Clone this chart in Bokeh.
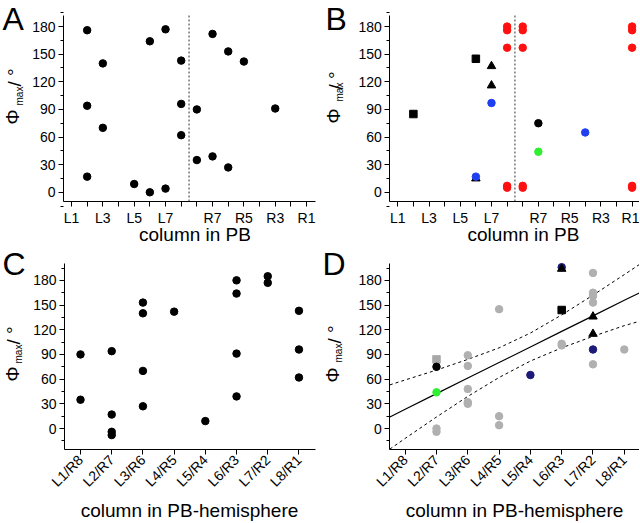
import math
from bokeh.plotting import figure
from bokeh.layouts import gridplot
from bokeh.models import FixedTicker, Label
from bokeh.embed import file_html
from bokeh.resources import INLINE

FONT = "Liberation Sans"

# ---------------- data ----------------
pb_columns = ["L1", "L2", "L3", "L4", "L5", "L6", "L7", "L8",
              "R8", "R7", "R6", "R5", "R4", "R3", "R2", "R1"]
pb_labeled = ["L1", "L3", "L5", "L7", "R7", "R5", "R3", "R1"]
hemi_columns = ["L1/R8", "L2/R7", "L3/R6", "L4/R5", "L5/R4", "L6/R3", "L7/R2", "L8/R1"]
phi_ticks = [0, 30, 60, 90, 120, 150, 180]
phi_minor = [-15, 15, 45, 75, 105, 135, 165, 195]

# Panel A
a_col = ["L2", "L2", "L2", "L3", "L3", "L5", "L6", "L6", "L7", "L7", "L8", "L8", "L8",
         "R8", "R8", "R7", "R7", "R6", "R6", "R5", "R3"]
a_phi = [176, 94, 17, 140, 70, 9, 164, 0, 177, 4, 143, 96, 62,
         90, 35, 172, 39, 153, 27, 142, 91]

# Panel B
b_square_col = ["L2", "L6"]
b_square_phi = [85, 145]
b_tri_col = ["L6", "L7", "L7"]
b_tri_phi = [15, 137, 116]
b_blue_col = ["L6", "L7", "R4"]
b_blue_phi = [17, 97, 65]
b_black_col = ["R7"]
b_black_phi = [75]
b_green_col = ["R7"]
b_green_phi = [44]
b_red_col = ["L8", "L8", "L8", "L8", "L8", "R8", "R8", "R8", "R8", "R8",
             "R1", "R1", "R1", "R1", "R1"]
b_red_phi = [180, 176, 157, 7, 5, 180, 176, 157, 7, 5, 180, 176, 157, 7, 5]

# Panel C
c_col = ["L1/R8", "L1/R8", "L2/R7", "L2/R7", "L2/R7", "L2/R7",
         "L3/R6", "L3/R6", "L3/R6", "L3/R6", "L4/R5", "L5/R4",
         "L6/R3", "L6/R3", "L6/R3", "L6/R3", "L7/R2", "L7/R2",
         "L8/R1", "L8/R1", "L8/R1"]
c_phi = [90, 35, 94, 17, -4, -8,
         153, 140, 70, 27, 142, 9,
         180, 164, 91, 39, 185, 177,
         143, 96, 62]

# Panel D
d_gray_col = ["L2/R7", "L2/R7", "L3/R6", "L3/R6", "L3/R6", "L3/R6", "L3/R6",
              "L4/R5", "L4/R5", "L4/R5", "L6/R3", "L6/R3",
              "L7/R2", "L7/R2", "L7/R2", "L7/R2", "L7/R2", "L8/R1"]
d_gray_phi = [0, -4, 89, 76, 48, 32, 30,
              145, 15, 4, 103, 101,
              189, 165, 161, 153, 78, 96]
d_gsq_col = ["L2/R7"]
d_gsq_phi = [84]
d_black_col = ["L2/R7"]
d_black_phi = [75]
d_green_col = ["L2/R7"]
d_green_phi = [44]
d_navy_col = ["L5/R4", "L6/R3", "L7/R2"]
d_navy_phi = [65, 196, 96]
d_tri_col = ["L6/R3", "L7/R2", "L7/R2"]
d_tri_phi = [194, 136, 115]
d_sq_col = ["L6/R3"]
d_sq_phi = [144]

# regression line and confidence band
fit_x = [0.51, 1, 2, 3, 4, 5, 6, 7, 8, 8.55]
fit_mid = [14, 23.5, 42.4, 61.3, 80.2, 99, 118, 136.9, 155.8, 166]
fit_upper = [53, 59, 71, 84, 98, 116, 138, 162, 187, 201]
fit_lower = [-25, -12, 14, 39, 62, 82, 98, 112, 125, 131]

pb_pos = {c: i + 1 for i, c in enumerate(pb_columns)}
hemi_pos = {c: i + 1 for i, c in enumerate(hemi_columns)}

# ---------------- layout (page pixel geometry of canvas and plot box) ----------------
GEOM = {
    "A": dict(ox=0, oy=0, fw=320, fh=246, l=63, t=15, w=252, h=186,
              x=(0.49, 16.57), y=(-10, 192)),
    "B": dict(ox=320, oy=0, fw=319, fh=246, l=389.3, t=15, w=249.7, h=186,
              x=(0.49, 16.475), y=(-10, 192)),
    "C": dict(ox=0, oy=246, fw=320, fh=276, l=64, t=263, w=251, h=186,
              x=(0.487, 8.53), y=(-25.5, 200.5)),
    "D": dict(ox=320, oy=246, fw=319, fh=276, l=389.3, t=263, w=249.7, h=186,
              x=(0.508, 8.486), y=(-25.5, 200.5)),
}
TEXT_SHIFT = 7       # Label glyphs render this far below the anchor (text frame)


def dx(g, px):
    x0, x1 = g["x"]
    return x0 + (px - g["l"]) / g["w"] * (x1 - x0)


def dy(g, py):
    y0, y1 = g["y"]
    return y1 - (py - g["t"]) / g["h"] * (y1 - y0)


def make_fig(key, tick_pos, tick_labels, rotate):
    g = GEOM[key]
    x0, x1 = g["x"]
    y0, y1 = g["y"]
    # the frame covers the whole canvas; axes sit at fixed data locations
    xr = (dx(g, g["ox"]), dx(g, g["ox"] + g["fw"]))
    yr = (dy(g, g["oy"] + g["fh"]), dy(g, g["oy"]))
    p = figure(width=g["fw"], height=g["fh"], x_range=xr, y_range=yr,
               output_backend="svg", toolbar_location=None, title=None,
               min_border=0, min_border_left=0, min_border_right=0,
               min_border_top=0, min_border_bottom=0)
    p.outline_line_color = None
    p.xgrid.visible = False
    p.ygrid.visible = False
    p.background_fill_color = "white"
    p.border_fill_color = "white"

    xa = p.xaxis[0]
    xa.ticker = FixedTicker(ticks=tick_pos, minor_ticks=[])
    xa.major_label_overrides = {t: lab for t, lab in zip(tick_pos, tick_labels)}
    xa.fixed_location = y0
    xa.bounds = (x0, x1)
    ya = p.yaxis[0]
    ya.ticker = FixedTicker(ticks=phi_ticks, minor_ticks=phi_minor)
    ya.fixed_location = x0
    ya.bounds = (y0, y1)
    for ax in (xa, ya):
        ax.axis_line_color = "black"
        ax.axis_line_width = 1
        ax.major_tick_line_color = "black"
        ax.minor_tick_line_color = "black"
        ax.major_tick_out = 5
        ax.major_tick_in = 0
        ax.minor_tick_out = 3
        ax.minor_tick_in = 0
        ax.major_label_text_font = FONT
        ax.major_label_text_font_size = "14px"
        ax.major_label_text_color = "black"
        ax.major_label_standoff = 3
    if rotate:
        xa.major_label_orientation = math.pi / 4
    return p


def add_text(p, g, px, py, text, size, angle=0.0, align="left"):
    if angle:
        px -= TEXT_SHIFT
    else:
        py -= TEXT_SHIFT
    p.add_layout(Label(x=dx(g, px), y=dy(g, py), text=text, angle=angle,
                       text_font=FONT, text_font_size=size, text_color="black",
                       text_align=align, text_baseline="alphabetic"))


def add_ylabel(p, g, phi_base, phi_start, max_base, max_start, sl_base, sl_start):
    add_text(p, g, phi_base, phi_start, "Φ", "19px", angle=math.pi / 2)
    add_text(p, g, max_base, max_start, "max", "10px", angle=math.pi / 2)
    add_text(p, g, sl_base, sl_start, "/ °", "19px", angle=math.pi / 2)


def add_divider(p, g):
    mid = (pb_pos["L8"] + pb_pos["R8"]) / 2
    p.line([mid, mid], list(g["y"]), line_color="#555555", line_dash="2 2", line_width=1.2)


pb_ticks = list(range(1, len(pb_columns) + 1))
pb_tick_labels = [c if c in pb_labeled else "" for c in pb_columns]
hemi_ticks = list(range(1, len(hemi_columns) + 1))

# ---------------- Panel A ----------------
gA = GEOM["A"]
pA = make_fig("A", pb_ticks, pb_tick_labels, False)
add_divider(pA, gA)
pA.scatter([pb_pos[c] for c in a_col], a_phi, marker="circle", size=7.5, color="black")
add_text(pA, gA, 194.5, 241, "column in PB", "19px", align="center")
add_text(pA, gA, 2, 25, "A", "32px")
add_ylabel(pA, gA, 19, 124, 25.5, 105, 21, 86)

# ---------------- Panel B ----------------
gB = GEOM["B"]
pB = make_fig("B", pb_ticks, pb_tick_labels, False)
add_divider(pB, gB)
pB.scatter([pb_pos[c] for c in b_red_col], b_red_phi, marker="circle", size=7.5, color="#ff1010")
pB.scatter([pb_pos[c] for c in b_square_col], b_square_phi, marker="square", size=7.5, color="black")
pB.scatter([pb_pos[c] for c in b_tri_col], b_tri_phi, marker="triangle", size=8.5, color="black")
pB.scatter([pb_pos[c] for c in b_blue_col], b_blue_phi, marker="circle", size=7.5, color="#2040f0")
pB.scatter([pb_pos[c] for c in b_black_col], b_black_phi, marker="circle", size=7.5, color="black")
pB.scatter([pb_pos[c] for c in b_green_col], b_green_phi, marker="circle", size=7.5, color="#30ee30")
add_text(pB, gB, 523, 241, "column in PB", "19px", align="center")
add_text(pB, gB, 325, 25, "B", "32px")
add_ylabel(pB, gB, 340, 123, 345.5, 101, 342, 89)

# ---------------- Panel C ----------------
gC = GEOM["C"]
pC = make_fig("C", hemi_ticks, hemi_columns, True)
pC.scatter([hemi_pos[c] for c in c_col], c_phi, marker="circle", size=7.5, color="black")
add_text(pC, gC, 189, 517, "column in PB-hemisphere", "19px", align="center")
add_text(pC, gC, 2, 270, "C", "32px")
add_ylabel(pC, gC, 18.5, 381, 25, 363, 20, 344)

# ---------------- Panel D ----------------
gD = GEOM["D"]
pD = make_fig("D", hemi_ticks, hemi_columns, True)
pD.line(fit_x, fit_upper, line_color="black", line_width=1, line_dash="3 3")
pD.line(fit_x, fit_lower, line_color="black", line_width=1, line_dash="3 3")
pD.line(fit_x, fit_mid, line_color="black", line_width=1.2)
pD.scatter([hemi_pos[c] for c in d_gray_col], d_gray_phi, marker="circle", size=7.5, color="#b0b0b0")
pD.scatter([hemi_pos[c] for c in d_gsq_col], d_gsq_phi, marker="square", size=7.5, color="#a8a8a8")
pD.scatter([hemi_pos[c] for c in d_black_col], d_black_phi, marker="circle", size=7.5, color="black")
pD.scatter([hemi_pos[c] for c in d_green_col], d_green_phi, marker="circle", size=7.5, color="#30ee30")
pD.scatter([hemi_pos[c] for c in d_navy_col], d_navy_phi, marker="circle", size=7.5, color="#1c1c78")
pD.scatter([hemi_pos[c] for c in d_tri_col], d_tri_phi, marker="triangle", size=8.5, color="black")
pD.scatter([hemi_pos[c] for c in d_sq_col], d_sq_phi, marker="square", size=7.5, color="black")
add_text(pD, gD, 514, 517, "column in PB-hemisphere", "19px", align="center")
add_text(pD, gD, 322, 270, "D", "32px")
add_ylabel(pD, gD, 339, 382, 344.5, 362, 341, 343)

grid = gridplot([[pA, pB], [pC, pD]], toolbar_location=None)

open("out.html", "w").write(file_html(grid, INLINE))
